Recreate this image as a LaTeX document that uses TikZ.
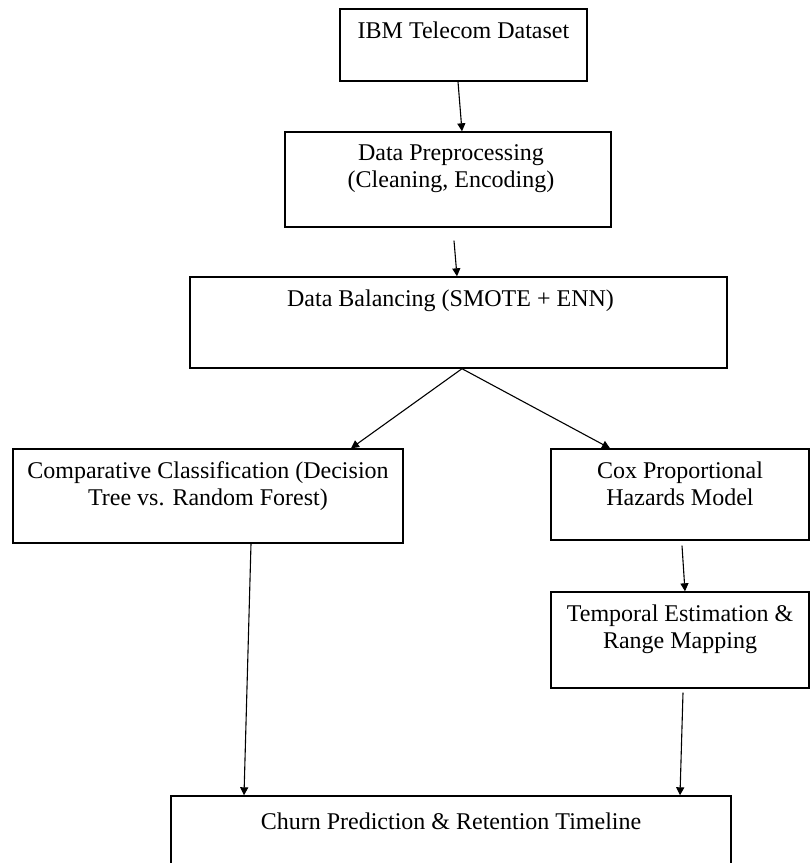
\documentclass[tikz,border=0pt]{standalone}
\usepackage{fontspec}
\setmainfont{Liberation Serif}
\usetikzlibrary{arrows.meta,positioning}

\begin{document}
\begin{tikzpicture}[
    x = 1pt, y = -1pt, % pixel-like units, y grows downwards
    > = {Triangle[length=8pt,width=8pt]}, % arrow head style
    line width = 1.1pt % line style
    ]

    \tikzset{block/.style={
    draw = black,
    line width = 1.4pt,
    rectangle,
    inner sep = 0pt
    },
    blocktext/.style={
    anchor = north,
    inner sep = 0pt,
    yshift = -13pt,
    align = center,
    font = \fontsize{24}{27}\selectfont
    }}

    \useasboundingbox (0,0) rectangle (811,863);

    \node[block, minimum width=247pt, minimum height=72pt,
      label={[blocktext]north:IBM Telecom Dataset}] (data) at (463.5,45) {};
    \node[block, minimum width=326pt, minimum height=95pt,
      label={[blocktext, xshift=3pt]north:Data Preprocessing\\(Cleaning, Encoding)}] (prep) at (448,179.5) {};
    \node[block, minimum width=537pt, minimum height=91pt,
      label={[blocktext, xshift=-8pt]north:Data Balancing (SMOTE + ENN)}] (bal) at (458.5,322.5) {};
    \node[block, minimum width=390pt, minimum height=94pt,
      label={[blocktext]north:Comparative Classification (Decision\\Tree vs. Random Forest)}] (clf) at (208,496) {};
    \node[block, minimum width=258pt, minimum height=91pt,
      label={[blocktext]north:Cox Proportional\\Hazards Model}] (cox) at (680,494.5) {};
    \node[block, minimum width=258pt, minimum height=96pt,
      label={[blocktext]north:Temporal Estimation \&\\Range Mapping}] (temp) at (680,640) {};
    \node[block, minimum width=560pt, minimum height=94pt,
      label={[blocktext, yshift=-4pt]north:Churn Prediction \& Retention Timeline}] (churn) at (451,843) {};

    \draw[->] ([xshift=-5.5pt]data.south) -- ([xshift=14pt]prep.north);
    \draw[->] ([xshift=6pt,yshift=-13pt]prep.south) -- ([xshift=-1.5pt]bal.north);
    \draw[->] ([xshift=3.5pt]bal.south) -- ([xshift=143pt]clf.north);
    \draw[->] ([xshift=3.5pt]bal.south) -- ([xshift=-70pt]cox.north);
    \draw[->] ([xshift=43pt]clf.south) -- ([xshift=-207pt]churn.north);
    \draw[->] ([xshift=2pt,yshift=-5pt]cox.south) -- ([xshift=5pt]temp.north);
    \draw[->] ([xshift=3pt,yshift=-4pt]temp.south) -- ([xshift=229pt]churn.north);
\end{tikzpicture}
\end{document}
